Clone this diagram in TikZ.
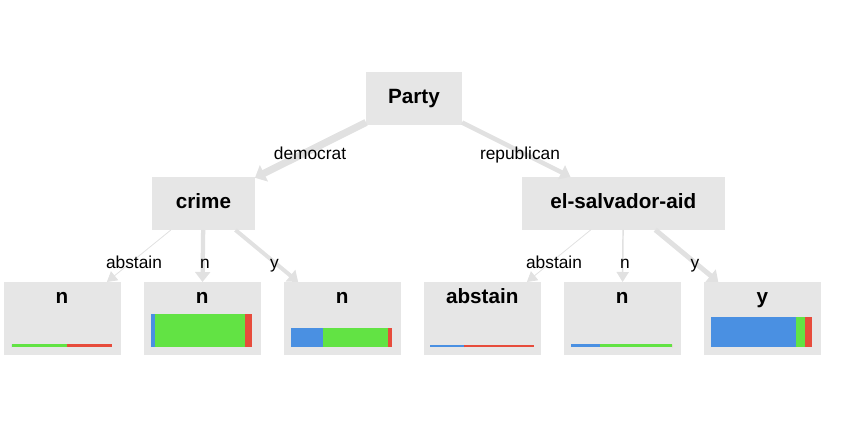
\documentclass[tikz,border=0pt]{standalone}
\usepackage{fontspec}
\setmainfont{Liberation Sans}
\usetikzlibrary{positioning,arrows.meta}
\definecolor{boxgray}{RGB}{230,230,230}
\definecolor{edgegray}{RGB}{225,225,225}
\definecolor{vblue}{RGB}{74,144,226}
\definecolor{vgreen}{RGB}{98,227,68}
\definecolor{vred}{RGB}{231,76,60}
\tikzset{split/.style={fill=boxgray,minimum height=39.75pt,inner sep=0pt,outer sep=0pt,
    font=\fontsize{15.5}{18}\selectfont\bfseries,text height=0.72em,text depth=0pt},
  leaf/.style={fill=boxgray,minimum width=87.75pt,minimum height=54.75pt,inner sep=0pt,outer sep=0pt},
  leaftitle/.style={anchor=base,inner sep=0pt,font=\fontsize{15.5}{18}\selectfont\bfseries},
  branch/.style={draw=edgegray,-{Triangle[length=7.5pt,width=8pt 1]}},
  lbl/.style={anchor=base,inner sep=0pt,font=\fontsize{13}{15}\selectfont}}
% class bar at the foot of a leaf: node, height, then x of blue|green|red limits
\newcommand{\leafbar}[6]{%
  \begin{scope}[shift={(#1.center)}]
    \fill[vblue] (#3,28.8) rectangle (#4,{28.8-#2});
    \fill[vgreen] (#4,28.8) rectangle (#5,{28.8-#2});
    \fill[vred] (#5,28.8) rectangle (#6,{28.8-#2});
  \end{scope}}

\begin{document}
\begin{tikzpicture}[x=0.75pt,y=0.75pt,yscale=-1,xscale=1,node distance=17.3pt]
\useasboundingbox (0,0) rectangle (864,424);

% split nodes
\node[split,minimum width=72pt] (party) at (414,98.5) {Party};
\node[split,minimum width=77.25pt] (crime) at (203.5,203.5) {crime};
\node[split,minimum width=152.25pt] (esa) at (623.3,203.3) {el-salvador-aid};

% leaves
\node[leaf] (lf1) at (62,318.5) {};
\node[leaf,right=of lf1] (lf2) {};
\node[leaf,right=of lf2] (lf3) {};
\node[leaf,right=of lf3] (lf4) {};
\node[leaf,right=of lf4] (lf5) {};
\node[leaf,right=of lf5] (lf6) {};

\node[leaftitle] (lf1t) at ([yshift=-11.25pt]lf1.center) {n};
\node[leaftitle] (lf2t) at ([yshift=-11.25pt]lf2.center) {n};
\node[leaftitle] (lf3t) at ([yshift=-11.25pt]lf3.center) {n};
\node[leaftitle] (lf4t) at ([yshift=-11.25pt]lf4.center) {abstain};
\node[leaftitle] (lf5t) at ([yshift=-11.25pt]lf5.center) {n};
\node[leaftitle] (lf6t) at ([yshift=-11.25pt]lf6.center) {y};

\leafbar{lf1}{3}{-50.3}{-50.3}{5.3}{49.7}
\leafbar{lf2}{33}{-50.7}{-46.7}{42.6}{50}
\leafbar{lf3}{19}{-51.3}{-19.3}{46}{49.4}
\leafbar{lf4}{2.5}{-52.5}{-18.2}{-18.2}{51.5}
\leafbar{lf5}{3}{-51}{-22.3}{50}{50}
\leafbar{lf6}{30.6}{-51.3}{33.7}{43}{49.7}

% branches
\draw[branch,line width=5.4pt] (party) -- (crime);
\draw[branch,line width=3.4pt] (party) -- (esa);
\draw[branch,line width=0.6pt] (crime) -- (lf1);
\draw[branch,line width=3.2pt] (crime) -- (lf2);
\draw[branch,line width=3pt] (crime) -- (lf3);
\draw[branch,line width=0.6pt] (esa) -- (lf4);
\draw[branch,line width=1.1pt] (esa) -- (lf5);
\draw[branch,line width=3.7pt] (esa) -- (lf6);

% Text Node
\node[lbl] (ldem) at (310,159.3) {democrat};
\node[lbl] (lrep) at (520,159.3) {republican};
\node[lbl] (lca) at (134,268) {abstain};
\node[lbl] (lcn) at (205,268) {n};
\node[lbl] (lcy) at (274.5,268) {y};
\node[lbl] (lea) at (554,268) {abstain};
\node[lbl] (len) at (625,268) {n};
\node[lbl] (ley) at (695,268) {y};

\end{tikzpicture}
\end{document}
